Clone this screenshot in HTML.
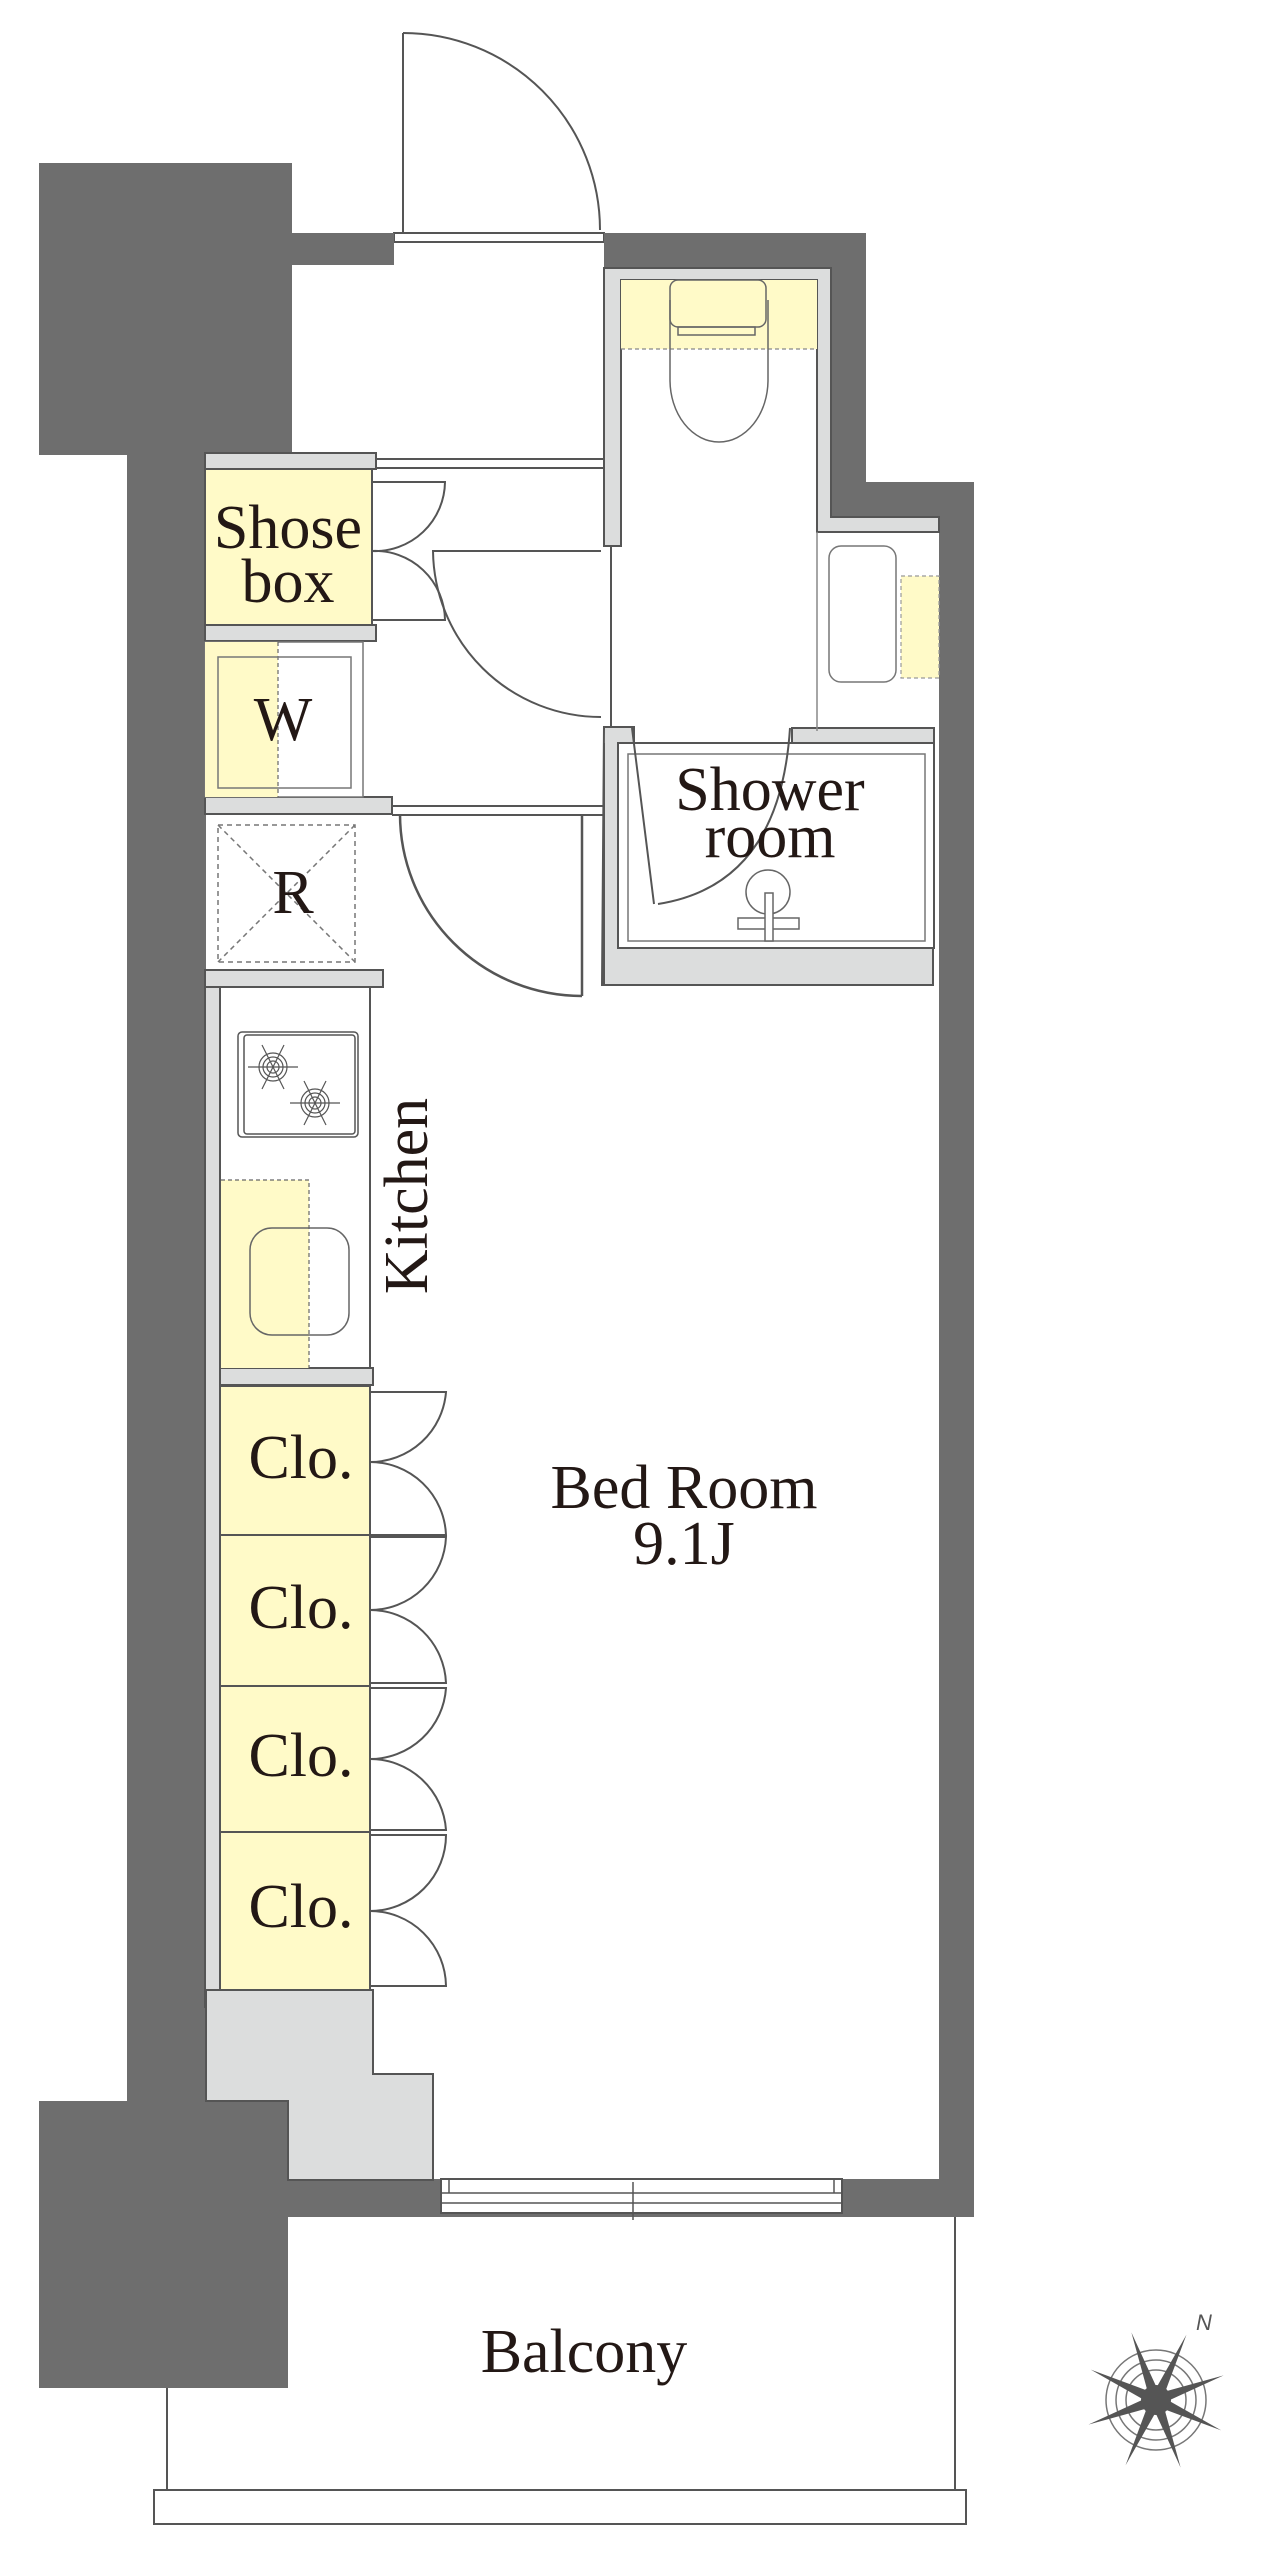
<!DOCTYPE html>
<html><head><meta charset="utf-8"><style>
html,body{margin:0;padding:0;background:#fff;}
svg{display:block;}
text{font-family:"Liberation Serif",serif;fill:#231815;}
</style></head><body>
<svg width="1274" height="2560" viewBox="0 0 1274 2560" xmlns="http://www.w3.org/2000/svg">
<g stroke="#555" stroke-width="2" fill="none">
<!-- entrance door -->
<line x1="403" y1="33" x2="403" y2="233"/>
<path d="M403,33 A197,197 0 0 1 600,230"/>
<rect x="394" y="233" width="210" height="9" fill="#fff"/>
</g>
<!-- dark walls -->
<g fill="#6e6e6e">
<rect x="39" y="163" width="253" height="292"/>
<rect x="127" y="455" width="79" height="1660"/>
<rect x="292" y="233" width="102" height="32"/>
<rect x="604" y="233" width="262" height="35"/>
<rect x="831" y="233" width="35" height="284"/>
<rect x="831" y="482" width="143" height="35"/>
<rect x="939" y="482" width="35" height="1735"/>
<rect x="39" y="2101" width="249" height="287"/>
<rect x="288" y="2179" width="686" height="38"/>
</g>
<!-- light gray fills -->
<g fill="#dcdddd" stroke="#555" stroke-width="2">
<rect x="205" y="453" width="171" height="16"/>
<rect x="205" y="625" width="171" height="16"/>
<rect x="205" y="797" width="187" height="17"/>
<rect x="205" y="970" width="178" height="17"/>
<rect x="205" y="987" width="15" height="1020"/>
<rect x="220" y="1368" width="153" height="17"/>
<path d="M206,1990 H373 V2074 H433 V2180 H288 V2101 H206 Z"/>
<!-- toilet lining -->
<path d="M604,268 H831 V517 H939 V532 H817 V280 H621 V546 H604 Z"/>
<path d="M604,727 H634 V743 H621 V948 H933 V985 H602 Z"/>
<rect x="792" y="728" width="142" height="16"/>
</g>
<!-- corridor lines -->
<g stroke="#555" stroke-width="2" fill="none">
<line x1="376" y1="459" x2="604" y2="459"/>
<line x1="376" y1="468" x2="604" y2="468"/>
<line x1="611" y1="546" x2="611" y2="727"/>
<line x1="392" y1="806" x2="604" y2="806"/>
<line x1="392" y1="815" x2="604" y2="815"/>
<line x1="604" y1="743" x2="604" y2="985"/>
</g>
<!-- shoe box / W -->
<rect x="205" y="469" width="167" height="156" fill="#fffac8" stroke="#555" stroke-width="2"/>
<rect x="205" y="642" width="158" height="155" fill="#fff" stroke="#777" stroke-width="1.5"/>
<rect x="205" y="642" width="73" height="155" fill="#fffac8"/>
<line x1="278" y1="642" x2="278" y2="797" stroke="#666" stroke-width="1.2" stroke-dasharray="4,3"/>
<rect x="218" y="657" width="133" height="131" fill="none" stroke="#777" stroke-width="1.5"/>
<g stroke="#555" stroke-width="2" fill="none">
<path d="M372,482 H445 A70,70 0 0 1 372,551"/>
<path d="M372,620 H445 A70,70 0 0 0 372,551"/>
<path d="M601,551 H433 A168,168 0 0 0 601,717"/>
</g>
<!-- R -->
<g stroke="#777" stroke-width="1.5" fill="none" stroke-dasharray="5,4">
<rect x="218" y="825" width="137" height="137"/>
<line x1="218" y1="825" x2="355" y2="962"/>
<line x1="355" y1="825" x2="218" y2="962"/>
</g>
<!-- bedroom door -->
<g stroke="#555" stroke-width="2.5" fill="none">
<line x1="582" y1="814" x2="582" y2="996"/>
<path d="M400,814 A182,182 0 0 0 582,996"/>
</g>
<!-- kitchen -->
<rect x="220" y="987" width="150" height="381" fill="#fff" stroke="#555" stroke-width="2"/>
<rect x="221" y="1180" width="88" height="188" fill="#fffac8"/>
<path d="M221,1180 H309 V1368" fill="none" stroke="#666" stroke-width="1.2" stroke-dasharray="4,3"/>
<rect x="250" y="1228" width="99" height="107" rx="22" fill="none" stroke="#666" stroke-width="1.5"/>
<rect x="238" y="1032" width="120" height="105" rx="4" fill="#fff" stroke="#555" stroke-width="1.5"/>
<rect x="244" y="1035" width="111" height="99" rx="3" fill="none" stroke="#555" stroke-width="1.5"/>
<g stroke="#555" stroke-width="1.2" fill="none">
<circle cx="273" cy="1067" r="14"/><circle cx="273" cy="1067" r="10"/><circle cx="273" cy="1067" r="6"/>
<line x1="248" y1="1067" x2="298" y2="1067"/><line x1="262" y1="1045" x2="284" y2="1089"/><line x1="284" y1="1045" x2="262" y2="1089"/>
<circle cx="315" cy="1103" r="14"/><circle cx="315" cy="1103" r="10"/><circle cx="315" cy="1103" r="6"/>
<line x1="290" y1="1103" x2="340" y2="1103"/><line x1="304" y1="1081" x2="326" y2="1125"/><line x1="326" y1="1081" x2="304" y2="1125"/>
</g>
<!-- closets -->
<g fill="#fffac8" stroke="#555" stroke-width="2">
<rect x="220" y="1386" width="150" height="149"/>
<rect x="220" y="1535" width="150" height="151"/>
<rect x="220" y="1686" width="150" height="146"/>
<rect x="220" y="1832" width="150" height="158"/>
</g>
<g stroke="#555" stroke-width="2" fill="none">
<path d="M370,1392 H446 A76,76 0 0 1 370,1462 A76,76 0 0 1 446,1535 H370"/>
<path d="M370,1537 H446 A76,76 0 0 1 370,1610 A76,76 0 0 1 446,1683 H370"/>
<path d="M370,1688 H446 A76,76 0 0 1 370,1759 A76,76 0 0 1 446,1830 H370"/>
<path d="M370,1835 H446 A76,76 0 0 1 370,1911 A76,76 0 0 1 446,1986 H370"/>
</g>
<!-- toilet -->
<rect x="621" y="280" width="196" height="69" fill="#fffac8"/>
<line x1="621" y1="349" x2="817" y2="349" stroke="#888" stroke-width="1.2" stroke-dasharray="4,3"/>
<g stroke="#666" stroke-width="1.5" fill="none">
<path d="M670,300 V380 A49,62 0 0 0 768,380 V300"/>
<rect x="670" y="280" width="96" height="47" rx="8"/>
<rect x="678" y="327" width="77" height="8"/>
</g>
<!-- washbasin area -->
<line x1="817" y1="532" x2="817" y2="731" stroke="#888" stroke-width="1.5"/>
<rect x="829" y="546" width="67" height="136" rx="12" fill="none" stroke="#777" stroke-width="1.5"/>
<rect x="901" y="576" width="38" height="102" fill="#fffac8" stroke="#999" stroke-width="1.2" stroke-dasharray="4,3"/>
<!-- shower -->
<rect x="618" y="743" width="316" height="205" fill="#fff" stroke="#555" stroke-width="2"/>
<rect x="628" y="754" width="297" height="187" fill="none" stroke="#777" stroke-width="1.5"/>
<g stroke="#555" stroke-width="2" fill="none">
<line x1="632" y1="728" x2="654" y2="904"/>
<path d="M658,904 Q780,885 790,728"/>
</g>
<g stroke="#666" stroke-width="1.5" fill="#fff">
<circle cx="768" cy="892" r="22" fill="none"/>
<rect x="738" y="918" width="61" height="11"/>
<rect x="765" y="893" width="8" height="48"/>
</g>
<!-- window -->
<rect x="441" y="2179" width="401" height="34" fill="#fff" stroke="#555" stroke-width="2"/>
<g stroke="#555" stroke-width="1.5" fill="none">
<line x1="441" y1="2193" x2="842" y2="2193"/>
<line x1="441" y1="2203" x2="842" y2="2203"/>
<line x1="633" y1="2182" x2="633" y2="2220"/>
<line x1="449" y1="2179" x2="449" y2="2193"/>
<line x1="834" y1="2179" x2="834" y2="2193"/>
</g>
<!-- balcony -->
<g stroke="#555" stroke-width="2" fill="none">
<line x1="167" y1="2388" x2="167" y2="2490"/>
<line x1="955" y1="2217" x2="955" y2="2490"/>
<rect x="154" y="2490" width="812" height="34"/>
</g>
<!-- compass -->
<g transform="translate(1156,2400)">
<g stroke="#777" stroke-width="1.5" fill="none">
<circle r="50"/><circle r="40"/><circle r="30"/>
</g>
<g fill="#555" transform="rotate(25)">
<path d="M0,-72 L5,-10 L-5,-10 Z"/><path d="M0,72 L5,10 L-5,10 Z"/>
<path d="M-72,0 L-10,5 L-10,-5 Z"/><path d="M72,0 L10,5 L10,-5 Z"/>
<g transform="rotate(45)">
<path d="M0,-72 L5,-10 L-5,-10 Z"/><path d="M0,72 L5,10 L-5,10 Z"/>
<path d="M-72,0 L-10,5 L-10,-5 Z"/><path d="M72,0 L10,5 L10,-5 Z"/>
</g>
</g>
<circle r="15" fill="#555"/>
<text x="40" y="-70" style="font-family:'Liberation Sans',sans-serif;font-style:italic;fill:#555" font-size="22">N</text>
</g>
<!-- labels -->
<g font-size="62" text-anchor="middle">
<text x="288" y="548">Shose</text>
<text x="288" y="602">box</text>
<text x="283" y="740">W</text>
<text x="293" y="913">R</text>
<text x="770" y="810">Shower</text>
<text x="770" y="857">room</text>
<text x="301" y="1478">Clo.</text>
<text x="301" y="1628">Clo.</text>
<text x="301" y="1776">Clo.</text>
<text x="301" y="1927">Clo.</text>
<text x="684" y="1508">Bed Room</text>
<text x="684" y="1564">9.1J</text>
<text x="584" y="2372">Balcony</text>
<text x="0" y="0" transform="translate(427,1196) rotate(-90)">Kitchen</text>
</g>
</svg>
</body></html>
